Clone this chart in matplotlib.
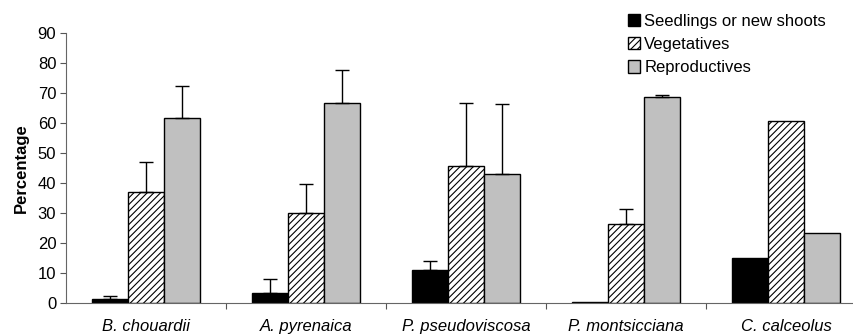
import matplotlib
matplotlib.use("Agg")
import matplotlib.pyplot as plt
import numpy as np

plt.rcParams['font.family'] = ['Liberation Sans', 'DejaVu Sans']
plt.rcParams['hatch.linewidth'] = 0.8

species = ["B. chouardii", "A. pyrenaica", "P. pseudoviscosa", "P. montsicciana", "C. calceolus"]
series_names = ["Seedlings or new shoots", "Vegetatives", "Reproductives"]
seedlings = [1.3, 3.4, 10.9, 0.2, 15.1]
seedlings_err = [1.1, 4.7, 3.2, 0.0, 0.0]
vegetatives = [37.1, 29.9, 45.7, 26.2, 60.8]
vegetatives_err = [9.8, 9.8, 20.9, 5.2, 0.0]
reproductives = [61.8, 66.6, 43.0, 68.6, 23.3]
reproductives_err = [10.4, 11.1, 23.3, 0.7, 0.0]

fig = plt.figure(figsize=(8.54, 3.36), dpi=100)
ax = fig.add_axes([66/854, (336-303)/336, 1 - 66/854, 270/336])

x = np.arange(len(species))
w = 0.225
styles = [dict(color="black", hatch=None), dict(color="white", hatch="/////"), dict(color="#c0c0c0", hatch=None)]
data = [(seedlings, seedlings_err), (vegetatives, vegetatives_err), (reproductives, reproductives_err)]
handles = []
for i, ((vals, errs), st, name) in enumerate(zip(data, styles, series_names)):
    pos = x + (i - 1) * w
    b = ax.bar(pos, vals, width=w, color=st["color"], edgecolor="black", linewidth=1.0,
               hatch=st["hatch"], label=name, zorder=2)
    handles.append(b)
    e = np.array(errs)
    mask = e > 0
    ax.errorbar(pos[mask], np.array(vals)[mask], yerr=[np.zeros(mask.sum()), e[mask]],
                fmt="none", ecolor="black", elinewidth=1.0, capsize=4.8, capthick=1.0, zorder=3)

ax.set_ylim(0, 90)
ax.set_xlim(-0.5, 4.425)
ax.set_yticks(range(0, 91, 10))
ax.tick_params(axis="y", labelsize=12, length=4, color="#555555", pad=3)
ax.set_xticks(np.arange(0.5, 4.5, 1.0))
ax.set_xticklabels([])
ax.tick_params(axis="x", length=4, color="#555555", direction="out")
for xi, s in zip(x, species):
    ax.text(xi, -5.3, s, ha="center", va="top", fontsize=12, style="italic")
for sp in ["top", "right"]:
    ax.spines[sp].set_visible(False)
ax.spines["left"].set_color("#666666")
ax.spines["bottom"].set_color("#666666")
ax.set_ylabel("Percentage", fontsize=12, fontweight="bold", labelpad=6)

fig.legend(handles=handles, labels=series_names, loc="upper left", bbox_to_anchor=(621/854, 1 - 7/336),
           frameon=False, fontsize=12, handlelength=0.75, handleheight=0.75, handletextpad=0.25,
           labelspacing=0.5, borderaxespad=0)

fig.savefig("out.png", dpi=100)
